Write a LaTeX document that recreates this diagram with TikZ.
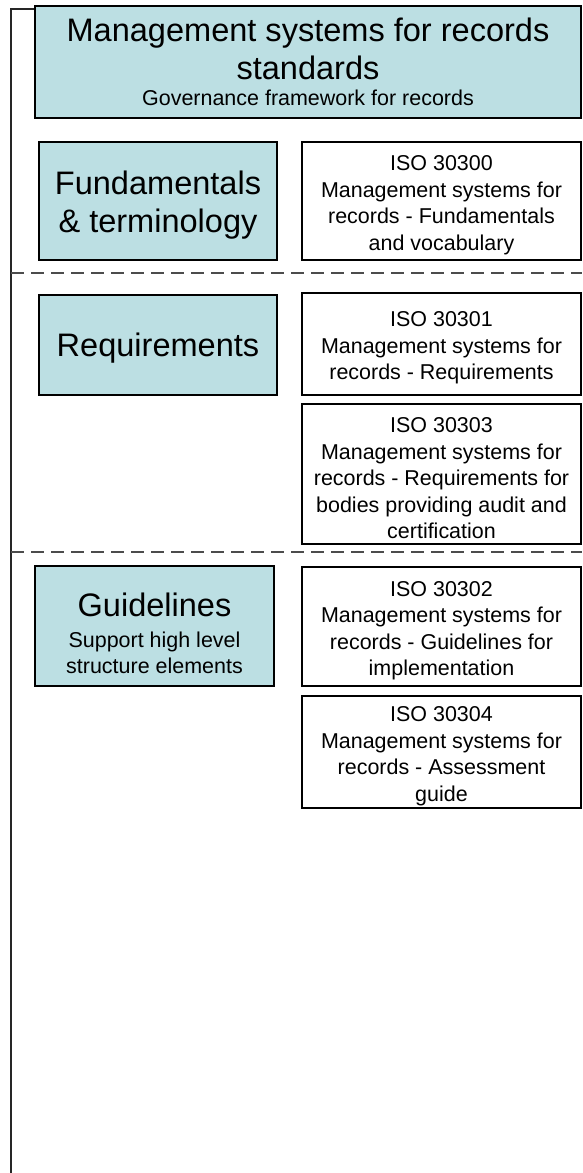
\documentclass[tikz,border=0pt]{standalone}
\usepackage{fontspec}
\setmainfont{Liberation Sans}
\definecolor{groupblue}{RGB}{188,223,227}
\newcommand{\bigtxt}{\fontsize{24.4}{28.5}\selectfont}
\newcommand{\smalltxt}{\fontsize{16.1}{19.9}\selectfont}
\newcommand{\padtop}[1]{\rule{0pt}{#1}}

\begin{document}
\begin{tikzpicture}[x=0.75pt,y=-0.75pt]

\tikzset{group/.style = {draw=black, line width=1.5pt, fill=groupblue, align=center, inner sep=0pt, minimum width=178.5pt}}
\tikzset{iso/.style = {draw=black, line width=1.5pt, fill=white, align=center, inner sep=0pt, minimum width=209.25pt, font=\smalltxt}}
\tikzset{split/.style = {gray!60!black, line width=0.8pt, dash pattern=on 9.75pt off 5.25pt}}
\useasboundingbox (0,0) rectangle (582,1173);
%frame
\draw[line width=1.1pt, gray!30!black] (11,1173) -- (11,9) -- (581,9);
\draw[split] (11,273) -- (582,273);
\draw[split] (11,552) -- (582,552);
%groups
\node[group, minimum width=409.5pt, minimum height=84pt, font=\bigtxt] (title) at (308,62) {Management systems for records\\standards\\[-9pt]\smalltxt Governance framework for records};
\node[group, minimum height=88.5pt, font=\bigtxt] (fund) at (158,201) {\padtop{24pt}Fundamentals\\\& terminology};
\node[group, minimum height=75pt, font=\bigtxt] (req) at (158,345) {\padtop{22pt}Requirements};
\node[group, minimum width=179.25pt, minimum height=90pt, font=\smalltxt] (guide) at (154.5,626) {\bigtxt\padtop{29pt}Guidelines\\[3pt]Support high level\\structure elements};
%standards
\node[iso, minimum height=88.5pt] (iso300) at (441.5,201) {\padtop{17.5pt}ISO 30300\\Management systems for\\records - Fundamentals\\and vocabulary};
\node[iso, minimum height=76.5pt] (iso301) at (441.5,344) {\padtop{17.5pt}ISO 30301\\Management systems for\\records - Requirements};
\node[iso, minimum height=105pt] (iso303) at (441.5,474) {\padtop{17.5pt}ISO 30303\\Management systems for\\records - Requirements for\\bodies providing audit and\\certification};
\node[iso, minimum height=89.25pt] (iso302) at (441.5,626.5) {\padtop{17.5pt}ISO 30302\\Management systems for\\records - Guidelines for\\implementation};
\node[iso, minimum height=84pt] (iso304) at (441.5,752) {\padtop{17.5pt}ISO 30304\\Management systems for\\records - Assessment\\guide};

\end{tikzpicture}
\end{document}
